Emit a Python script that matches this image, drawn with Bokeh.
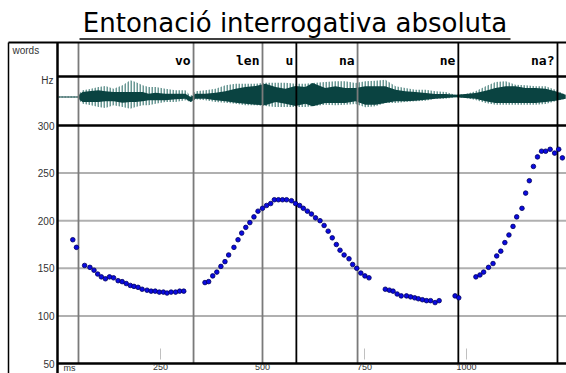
from bokeh.plotting import figure
from bokeh.models import Range1d, LinearAxis, FixedTicker
from bokeh.core.properties import value
from bokeh.embed import file_html
from bokeh.resources import INLINE

# ---------------- data ----------------
title_text = "Entonació interrogativa absoluta"
words = ["vo", "len", "u", "na", "ne", "na?"]
word_end_ms = [331, 500, 583, 733, 980, 1223]
boundary_ms = [49, 331, 500, 583, 733, 980, 1223]
boundary_color = ["#7a7a7a", "#7a7a7a", "#7a7a7a", "#000000", "#7a7a7a", "#000000", "#000000"]
hz_ticks = [50, 100, 150, 200, 250, 300]
grid_hz = [100, 150, 200, 250]
ms_ticks = [250, 500, 750, 1000, 1250]
ms_minor_marks = [250, 750, 1000]

pitch_ms = [35, 44, 64, 77, 87, 96, 105, 115, 125, 135, 146, 156, 166, 176, 185, 195,
            205, 217, 227, 237, 247, 257, 266, 276, 287, 297, 307,
            359, 368, 378, 388, 398, 408, 417, 430, 440, 449, 459, 469, 479, 489, 500,
            510, 520, 529, 539, 549, 559, 571, 581, 591,
            600, 610, 620, 630, 641, 651, 661, 671, 681, 690, 700, 712, 721, 731, 741,
            751, 761,
            801, 811, 820, 830, 840, 853, 863, 873, 882, 892, 902, 912, 923, 933,
            972, 981,
            1023, 1033, 1042, 1054, 1065, 1074, 1084, 1094, 1104, 1114, 1123, 1136,
            1145, 1154, 1164, 1174, 1184, 1194, 1205, 1216, 1226, 1235]
pitch_hz = [180, 172, 153, 151, 148, 144, 141, 139, 141, 140, 137, 136, 134, 132, 131, 130,
            128, 127, 126, 126, 125, 125, 124, 125, 125, 126, 126,
            135, 136, 142, 146, 152, 157, 164, 172, 180, 187, 193, 198, 204, 210, 213,
            216, 218, 222, 222, 222, 222, 221, 218, 216,
            213, 210, 207, 203, 200, 195, 189, 182, 175, 169, 164, 160, 154, 150, 145,
            142, 140,
            128, 127, 126, 123, 121, 121, 120, 119, 118, 117, 116, 116, 114, 116,
            121, 119,
            141, 143, 146, 151, 155, 163, 168, 177, 185, 194, 204, 213,
            229, 242, 257, 267, 273, 273, 275, 271, 275, 266]

# waveform envelope (amplitude units, + = up)
wave_ms = [0, 49, 52, 59, 74, 98, 115, 135, 157, 176, 189, 206, 221, 238, 262, 287,
           311, 324, 336, 360, 385, 409, 434, 458, 483, 507, 532, 556, 581, 605, 623,
           654, 679, 703, 728, 752, 777, 801, 826, 850, 875, 900, 924, 949, 973, 998,
           1022, 1047, 1071, 1096, 1120, 1145, 1169, 1194, 1218, 1243]
wave_dark_hi = [0.5, 0.5, 3, 5, 5.7, 6.7, 5.7, 5, 5, 5, 5, 5, 3.3, 4.3, 3.3, 3.3,
                3.3, 0, 3.3, 3.3, 4.3, 5.7, 8.3, 10, 11, 13.3, 10, 8.3, 11, 10, 14,
                9, 10.7, 9, 9, 10.7, 10.7, 10.7, 7.3, 5.7, 5, 4, 3, 3, 2.3, 3,
                4, 6.3, 9, 10.7, 10.7, 9, 9, 8.3, 5.7, 2.3]
wave_dark_lo = [-0.5, -0.5, -3, -5, -5, -5, -4.3, -4.3, -5.7, -5, -5, -4.3, -3.3, -3.3, -3.3, -2.3,
                -1.7, -5, -1.7, -1.7, -3.3, -4.3, -5.7, -6.7, -7.7, -8.3, -5, -6.7, -9, -6.7, -9.3,
                -6, -6, -6, -4.3, -7.7, -7.7, -6, -4.3, -4.3, -3.7, -2.7, -1.7, -1, -0.3, -1,
                -1.7, -4.3, -6, -6, -6, -6, -6, -5, -3.7, -1.7]
wave_light_hi = [0.5, 0.5, 4, 6.7, 7.7, 10, 11, 8.3, 11.7, 16.7, 15, 11.7, 10, 10, 8.3, 6.7,
                 6.7, 1, 5.7, 6.7, 8.3, 11.7, 13.3, 13.3, 13.3, 14.3, 14.3, 14.3, 13.3, 13.3, 14,
                 15, 15.7, 15.7, 14, 15.7, 16.3, 17.3, 10.7, 9, 7.3, 7.3, 5.7, 5, 2.3, 3,
                 5.7, 10.7, 15, 15.7, 12.3, 11.7, 10.7, 10.7, 7.3, 2.3]
wave_light_lo = [-0.5, -0.5, -4, -6.7, -7.7, -10, -11, -8.3, -10, -11.7, -10, -8.3, -8.3, -6.7, -5, -5,
                 -3.3, -5, -2.3, -3.3, -5, -5.7, -6.7, -8.3, -8.3, -9, -10, -10, -10, -10, -9.3,
                 -7.7, -8.3, -7.7, -7, -10.3, -9.3, -6, -6, -5, -4.3, -3.7, -1.7, -1.7, -0.3, -1,
                 -3, -6, -7.7, -7.7, -7.7, -7.7, -7.7, -7, -4.3, -1.7]

# ---------------- layout (pixels) ----------------
W, H = 566, 373
X0_PX, PX_PER_MS = 58.0, 0.408      # 0 ms at x=58
Y50_PX, PX_PER_HZ = 363.0, 0.952    # 50 Hz at y=363
BOX_L, FRAME_L = 8, 57
TOP, SEP_WORDS, SEP_WAVE = 42, 76, 125
WAVE_MID = 96.5
TITLE_L, TITLE_R = 79, 510

p = figure(width=W, height=H, output_backend="svg", toolbar_location=None,
           x_axis_type=None, y_axis_type=None, min_border=0,
           x_range=Range1d(-X0_PX / PX_PER_MS, (W - X0_PX) / PX_PER_MS),
           y_range=Range1d(50 - (H - Y50_PX) / PX_PER_HZ, 50 + Y50_PX / PX_PER_HZ))
p.extra_x_ranges = {"px": Range1d(0, W)}
p.extra_y_ranges = {"px": Range1d(H, 0)}
p.outline_line_color = None
p.background_fill_color = "white"
p.border_fill_color = "white"
p.xgrid.visible = False
p.ygrid.visible = False

# title with underline
p.text(x=[(TITLE_L + TITLE_R) / 2], y=[22], text=[title_text], x_range_name="px",
       y_range_name="px", text_font=value("DejaVu Sans"), text_font_size="26px",
       text_align="center", text_baseline="middle", text_color="black")
p.segment(x0=[TITLE_L], x1=[TITLE_R], y0=[38.5], y1=[38.5], x_range_name="px",
          y_range_name="px", line_color="black", line_width=1.5)

# pitch grid lines
p.segment(x0=[FRAME_L] * len(grid_hz), x1=[W] * len(grid_hz), y0=grid_hz, y1=grid_hz,
          x_range_name="px", line_color="#b0b0b0", line_width=2)

# small tick marks above the time axis
p.segment(x0=ms_minor_marks, x1=ms_minor_marks, y0=[348] * len(ms_minor_marks),
          y1=[359] * len(ms_minor_marks), y_range_name="px", line_color="#c0c0c0", line_width=1)

# waveform
p.varea(x=wave_ms, y1=[WAVE_MID - v for v in wave_light_hi],
        y2=[WAVE_MID - v for v in wave_light_lo], y_range_name="px",
        fill_color=None, hatch_pattern="|", hatch_color="#6a9894", hatch_scale=3,
        hatch_weight=2)
p.varea(x=wave_ms, y1=[WAVE_MID - v for v in wave_dark_hi],
        y2=[WAVE_MID - v for v in wave_dark_lo], y_range_name="px",
        fill_color="#0a4341")

# boundaries
p.segment(x0=boundary_ms, x1=boundary_ms, y0=[TOP] * len(boundary_ms),
          y1=[Y50_PX] * len(boundary_ms), y_range_name="px",
          line_color=boundary_color, line_width=1.8)

# frame lines
p.segment(x0=[BOX_L, BOX_L, FRAME_L], x1=[W, BOX_L, FRAME_L], y0=[TOP, TOP, TOP],
          y1=[TOP, H, H], x_range_name="px", y_range_name="px",
          line_color="black", line_width=[2, 1.5, 2.5])
p.segment(x0=[FRAME_L], x1=[W], y0=[SEP_WORDS], y1=[SEP_WORDS], x_range_name="px",
          y_range_name="px", line_color="black", line_width=2.5)
p.segment(x0=[FRAME_L, FRAME_L], x1=[W, W], y0=[300, 50], y1=[300, 50], x_range_name="px",
          line_color="black", line_width=2.5)

# words
p.text(x=word_end_ms, y=[(TOP + SEP_WORDS) / 2 + 1] * len(words), text=words,
       y_range_name="px", x_offset=-3, text_font=value("DejaVu Sans Mono"),
       text_font_style="bold", text_font_size="13px", text_align="right",
       text_baseline="middle", text_color="black")

# row labels
p.text(x=[12], y=[50], text=["words"], x_range_name="px", y_range_name="px",
       text_font=value("Liberation Sans"), text_font_size="10px", text_align="left",
       text_baseline="middle", text_color="#333333")
p.text(x=[53], y=[80], text=["Hz"], x_range_name="px", y_range_name="px",
       text_font=value("Liberation Sans"), text_font_size="10px", text_align="right",
       text_baseline="middle", text_color="#333333")
p.text(x=[63], y=[367.5], text=["ms"], x_range_name="px", y_range_name="px",
       text_font=value("Liberation Sans"), text_font_size="9px", text_align="left",
       text_baseline="middle", text_color="#333333")

# pitch points
p.scatter(pitch_ms, pitch_hz, size=4.6, fill_color="#0a0ae0", line_color="#000060",
          line_width=0.8)

# axes
yax = LinearAxis(ticker=FixedTicker(ticks=hz_ticks), fixed_location=(FRAME_L - X0_PX) / PX_PER_MS)
yax.axis_line_color = None
yax.major_tick_in = 0
yax.major_tick_out = 0
yax.minor_tick_line_color = None
yax.major_label_standoff = 3
yax.major_label_text_font = "Liberation Sans"
yax.major_label_text_font_size = "10px"
yax.major_label_text_color = "#333333"
p.add_layout(yax, "left")

xax = LinearAxis(ticker=FixedTicker(ticks=ms_ticks), fixed_location=50)
xax.axis_line_color = None
xax.major_tick_in = 0
xax.major_tick_out = 0
xax.minor_tick_line_color = None
xax.major_label_standoff = 0
xax.major_label_text_font = "Liberation Sans"
xax.major_label_text_font_size = "9px"
xax.major_label_text_color = "#333333"
p.add_layout(xax, "below")

open("out.html", "w").write(file_html(p, INLINE))
